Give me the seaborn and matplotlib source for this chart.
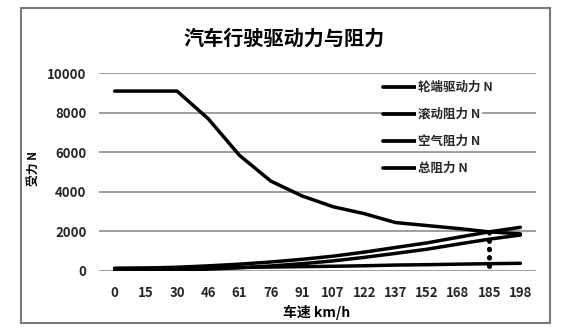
import matplotlib
matplotlib.use("Agg")
import matplotlib.pyplot as plt
from matplotlib.patches import Rectangle
from matplotlib.font_manager import FontProperties
import pandas as pd
import seaborn as sns

# Vehicle speed categories (km/h)
speeds = ["0", "15", "30", "46", "61", "76", "91", "107", "122", "137", "152", "168", "185", "198"]

# Forces in N at each speed
drive_force = [9100, 9100, 9100, 7700, 5850, 4550, 3800, 3250, 2900, 2450, 2300, 2150, 1980, 1880]
rolling_res = [130, 140, 150, 165, 180, 200, 220, 240, 265, 300, 320, 345, 370, 390]
air_res = [0, 10, 40, 95, 165, 255, 370, 510, 690, 890, 1100, 1360, 1610, 1820]
total_res = [130, 150, 190, 260, 345, 455, 590, 750, 955, 1190, 1420, 1705, 1980, 2210]

series_names = ["轮端驱动力 N", "滚动阻力 N", "空气阻力 N", "总阻力 N"]
y_ticks = [0, 2000, 4000, 6000, 8000, 10000]
max_speed_idx = 12  # speed where drive force meets total resistance

sns.set_theme(style="white")
FAMILY = ["Noto Sans CJK SC", "DejaVu Sans"]
plt.rcParams["font.family"] = FAMILY
WEIGHT = "heavy"

W, H = 572, 328
fig = plt.figure(figsize=(W / 100, H / 100), dpi=100)
ax = fig.add_axes([99 / W, 1 - 271 / H, (536 - 99) / W, (271 - 73.3) / H])

pos = list(range(len(speeds)))
frames = []
for name, vals in zip(series_names, [drive_force, rolling_res, air_res, total_res]):
    frames.append(pd.DataFrame({"pos": pos, "value": vals, "series": name}))
df = pd.concat(frames, ignore_index=True)

sns.lineplot(data=df, x="pos", y="value", hue="series", hue_order=series_names,
             palette=["black"] * 4, linewidth=2.5, ax=ax, legend=True, zorder=3)

# dotted marker line at the top-speed point
ax.plot([max_speed_idx, max_speed_idx], [drive_force[max_speed_idx], 0],
        color="black", lw=3.6, ls=(0, (0.12, 1.55)), dash_capstyle="round",
        solid_capstyle="round", zorder=4)

ax.set_xlim(-0.5, len(speeds) - 0.5)
ax.set_ylim(0, 10000)
ax.set_xticks(pos)
ax.set_xticklabels(speeds)
ax.set_yticks(y_ticks)
ax.set_yticklabels([str(v) for v in y_ticks])
ax.tick_params(axis="x", length=0, pad=11, labelsize=9.5)
ax.tick_params(axis="y", length=0, pad=9, labelsize=9.5)
for lab in ax.get_xticklabels() + ax.get_yticklabels():
    lab.set_fontweight(WEIGHT)
ax.yaxis.grid(True, color="#8f8f8f", lw=1.2, zorder=0)
ax.xaxis.grid(False)
for s in ax.spines.values():
    s.set_visible(False)
ax.set_xlabel("")
ax.set_ylabel("")

# legend with white behind the labels only
handles, labels = ax.get_legend_handles_labels()
leg = ax.legend(handles, labels, loc="upper left",
                bbox_to_anchor=(383 / W, 1 - 81 / H), bbox_transform=fig.transFigure,
                frameon=False, borderpad=0, borderaxespad=0, handlelength=2.6,
                handletextpad=0.2, labelspacing=1.12,
                prop=FontProperties(family=FAMILY, weight=WEIGHT, size=9))
for ln in leg.get_lines():
    ln.set_linewidth(2.7)
for t in leg.get_texts():
    t.set_bbox(dict(facecolor="white", edgecolor="none", pad=1.5))

fig.text(284 / W, 1 - 38 / H, "汽车行驶驱动力与阻力", ha="center", va="center",
         fontsize=14.5, fontweight=WEIGHT, color="black")
fig.text(317 / W, 1 - 312 / H, "车速 km/h", ha="center", va="center",
         fontsize=10, fontweight=WEIGHT, color="black")
fig.text(33 / W, 1 - 168 / H, "受力 N", ha="center", va="center", rotation=90,
         fontsize=8.5, fontweight=WEIGHT, color="black")

fig.patches.append(Rectangle((21 / W, 1 - 323 / H), (550 - 21) / W, (323 - 8) / H,
                             transform=fig.transFigure, fill=False,
                             edgecolor="#7a7a7a", lw=1.5))

fig.savefig("out.png", dpi=100, facecolor="white")
